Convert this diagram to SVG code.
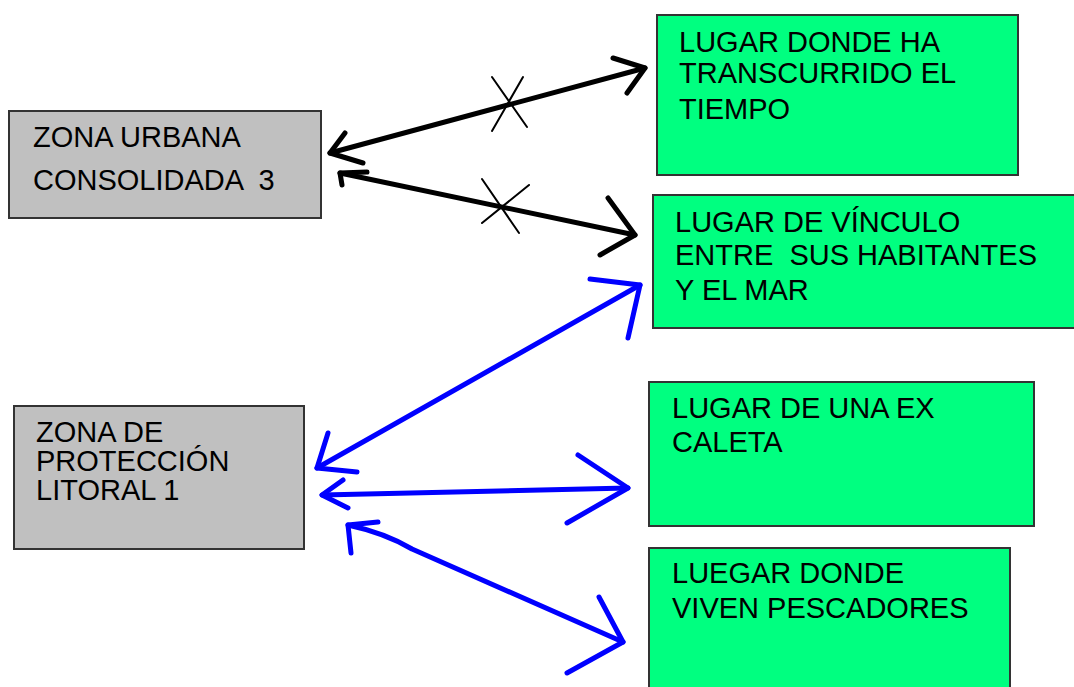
<svg xmlns="http://www.w3.org/2000/svg" width="1074" height="687" viewBox="0 0 1074 687">
<style>
.gray{fill:#c0c0c0;stroke:#333;stroke-width:2}
.green{fill:#00ff80;stroke:#333;stroke-width:2}
.t{font-family:"Liberation Sans",Arial,sans-serif;font-size:29px;fill:#000}
.blk{fill:none;stroke:#000;stroke-width:5;stroke-linecap:round;stroke-linejoin:round}
.blu{fill:none;stroke:#0000ff;stroke-width:5;stroke-linecap:round;stroke-linejoin:round}
.x{fill:none;stroke:#000;stroke-width:2;stroke-linecap:round}
</style>
<rect width="1074" height="687" fill="#fff"/>
<g id="zona-urbana">
<rect class="gray" x="9" y="111" width="312" height="107"/>
<text class="t" x="33" y="147" font-size="28.5">ZONA URBANA</text>
<text class="t" x="33" y="190" font-size="28.5" xml:space="preserve">CONSOLIDADA  3</text>
</g>
<g id="zona-proteccion">
<rect class="gray" x="14" y="406" width="290" height="143"/>
<text class="t" x="36" y="442">ZONA DE</text>
<text class="t" x="36" y="471">PROTECCIÓN</text>
<text class="t" x="36" y="500">LITORAL 1</text>
</g>
<g id="lugar-tiempo">
<rect class="green" x="657" y="15" width="361" height="160"/>
<text class="t" x="679" y="52">LUGAR DONDE HA</text>
<text class="t" x="679" y="83">TRANSCURRIDO EL</text>
<text class="t" x="679" y="119">TIEMPO</text>
</g>
<g id="lugar-vinculo">
<rect class="green" x="653" y="195" width="428" height="133"/>
<text class="t" x="675" y="232">LUGAR DE VÍNCULO</text>
<text class="t" x="675" y="265" xml:space="preserve">ENTRE  SUS HABITANTES</text>
<text class="t" x="675" y="300">Y EL MAR</text>
</g>
<g id="lugar-caleta">
<rect class="green" x="649" y="382" width="385" height="144"/>
<text class="t" x="672" y="418">LUGAR DE UNA EX</text>
<text class="t" x="672" y="452">CALETA</text>
</g>
<g id="lugar-pescadores">
<rect class="green" x="649" y="548" width="361" height="150"/>
<text class="t" x="672" y="583">LUEGAR DONDE</text>
<text class="t" x="672" y="618">VIVEN PESCADORES</text>
</g>
<g id="connectors">
<path class="blk" d="M330 153 L645 68"/>
<path class="blk" d="M613 58 L645 68 L627 93"/>
<path class="blk" d="M345 133 L330 153 L363 163"/>
<path class="x" d="M492 77 L527 127 M523 77 L492 131"/>
<path class="blk" d="M340 173 L635 235"/>
<path class="blk" d="M367 172 L340 173 L342 185"/>
<path class="blk" d="M608 198 L635 235 L600 255"/>
<path class="x" d="M482 179 L519 233 M529 185 L482 223"/>
<path class="blu" d="M317 468 L640 285"/>
<path class="blu" d="M590 279 L640 285 L628 338"/>
<path class="blu" d="M328 433 L317 468 L357 472"/>
<path class="blu" d="M322 495 L628 488"/>
<path class="blu" d="M343 480 L322 495 L348 508"/>
<path class="blu" d="M578 455 L628 488 L567 523"/>
<path class="blu" d="M348 525 Q385 533 412 549 L623 642"/>
<path class="blu" d="M378 522 L348 525 L351 553"/>
<path class="blu" d="M599 597 L623 642 L567 673"/>
</g>
</svg>
